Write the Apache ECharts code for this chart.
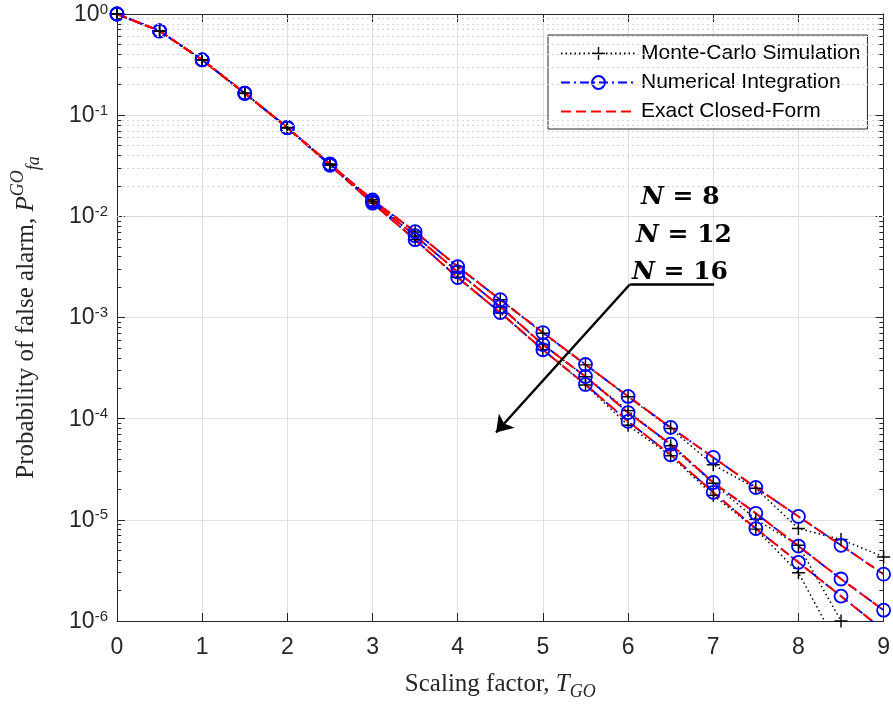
<!DOCTYPE html>
<html>
<head>
<meta charset="utf-8">
<title>Probability of false alarm vs scaling factor</title>
<script src="https://cdn.jsdelivr.net/npm/echarts@6/dist/echarts.min.js"></script>
<style>
  html, body { margin: 0; padding: 0; background: #fff; }
  #chart { width: 893px; height: 706px; }
</style>
</head>
<body>
<div id="chart"></div>
<script>
// scaling factor T_GO
const tValues = [0, 0.5, 1, 1.5, 2, 2.5, 3, 3.5, 4, 4.5, 5, 5.5, 6, 6.5, 7, 7.5, 8, 8.5, 9]

// numerical integration (the exact closed-form curves lie on top of these)
const numN8 = [1, 0.68, 0.352, 0.165, 0.0755, 0.033, 0.0145, 7.05e-3, 3.18e-3, 1.5e-3, 7.1e-4, 3.43e-4, 1.66e-4, 8.2e-5, 4.14e-5, 2.09e-5, 1.08e-5, 5.6e-6, 2.9e-6]
const numN12 = [1, 0.68, 0.352, 0.165, 0.0752, 0.0325, 0.014, 6.43e-3, 2.82e-3, 1.28e-3, 5.4e-4, 2.61e-4, 1.15e-4, 5.6e-5, 2.34e-5, 1.16e-5, 5.5e-6, 2.6e-6, 1.28e-6]
const numN16 = [1, 0.68, 0.352, 0.164, 0.075, 0.032, 0.0135, 5.88e-3, 2.48e-3, 1.12e-3, 4.8e-4, 2.18e-4, 9.4e-5, 4.4e-5, 1.87e-5, 8.2e-6, 3.8e-6, 1.76e-6, 8.1e-7]

// monte-carlo runs (null = no false alarm counted)
const mcN8 = [1, 0.68, 0.353, 0.165, 0.0756, 0.033, 0.0146, 7.0e-3, 3.2e-3, 1.5e-3, 7.0e-4, 3.4e-4, 1.65e-4, 8.0e-5, 3.5e-5, 2.05e-5, 8.2e-6, 6.4e-6, 4.3e-6]
const mcN12 = [1, 0.68, 0.352, 0.165, 0.0752, 0.0325, 0.014, 6.4e-3, 2.83e-3, 1.27e-3, 5.4e-4, 2.6e-4, 1.2e-4, 5.4e-5, 2.3e-5, 1.01e-5, 5.6e-6, 1.0e-6, null]
const mcN16 = [1, 0.68, 0.351, 0.164, 0.075, 0.032, 0.0135, 5.9e-3, 2.5e-3, 1.11e-3, 4.8e-4, 2.15e-4, 8.6e-5, 4.3e-5, 1.75e-5, 8.1e-6, 3.0e-6, 5e-7, null]

const legendNames = ['Monte-Carlo Simulation', 'Numerical Integration', 'Exact Closed-Form']
const nLabels = ['8', '12', '16']

const axisColor = '#262626'
const sans = 'Liberation Sans'
const serif = 'Liberation Serif'
const plusPath = 'path://M-1,-0.11H1V0.11H-1Z M-0.11,-1H0.11V1H-0.11Z'

// log minor steps (2..9 in each decade)
const minorVals = []
for (let d = -6; d < 0; d++) {
  for (let k = 2; k <= 9; k++) minorVals.push(k * Math.pow(10, d))
}

function lineSeries(name, ys, opts) {
  return Object.assign({
    name: name,
    type: 'line',
    data: tValues.map((t, i) => [t, ys[i]]),
    clip: true,
    emphasis: { disabled: true }
  }, opts)
}

const mcStyle = {
  symbol: plusPath,
  symbolSize: 13,
  itemStyle: { color: '#000' },
  lineStyle: { color: '#000', width: 1.5, type: [1.5, 3] }
}
const numStyle = {
  symbol: 'circle',
  symbolSize: 13,
  itemStyle: { color: 'rgba(0,0,0,0)', borderColor: '#0000ff', borderWidth: 1.8 },
  lineStyle: { color: '#0000ff', width: 1.8, type: [9, 4, 2, 4] }
}
const exactStyle = {
  symbol: 'none',
  // transparent item colour keeps the legend icon a bare dashed line
  itemStyle: { color: 'rgba(0,0,0,0)', borderWidth: 0 },
  lineStyle: { color: '#ff0000', width: 2, type: [10, 5] }
}

const series = [
  // minor grid lines
  {
    type: 'line', data: [], silent: true, z: 1,
    markLine: {
      silent: true, symbol: 'none', label: { show: false }, animation: false,
      lineStyle: { color: '#d4d4d4', width: 1, type: [2, 3] },
      data: minorVals.map(v => ({ yAxis: v }))
    }
  },
  // minor ticks left/right
  {
    type: 'line', data: [], silent: true, z: 3,
    markLine: {
      silent: true, symbol: 'none', label: { show: false }, animation: false,
      lineStyle: { color: axisColor, width: 1, type: 'solid' },
      data: minorVals.map(v => [{ coord: [0, v] }, { coord: [0.05, v] }])
        .concat(minorVals.map(v => [{ coord: [8.95, v] }, { coord: [9, v] }]))
    }
  },
  lineSeries(legendNames[0], mcN8, mcStyle),
  lineSeries(legendNames[0], mcN12, mcStyle),
  lineSeries(legendNames[0], mcN16, mcStyle),
  lineSeries(legendNames[1], numN8, numStyle),
  lineSeries(legendNames[1], numN12, numStyle),
  lineSeries(legendNames[1], numN16, numStyle),
  lineSeries(legendNames[2], numN8, exactStyle),
  lineSeries(legendNames[2], numN12, exactStyle),
  lineSeries(legendNames[2], numN16, exactStyle),
  // annotation arrow
  {
    type: 'line', data: [], silent: true, z: 10,
    markLine: {
      silent: true, symbol: ['none', 'arrow'], symbolSize: 16, label: { show: false }, animation: false,
      lineStyle: { color: '#000', width: 2.5, type: 'solid' },
      data: [
        [{ coord: [7.01, 2.12e-3] }, { coord: [6.02, 2.12e-3], symbol: 'none' }],
        [{ coord: [6.02, 2.12e-3] }, { coord: [4.45, 7.3e-5] }]
      ]
    }
  }
]

const chart = echarts.init(document.getElementById('chart'))

chart.setOption({
  animation: false,
  backgroundColor: '#fff',
  grid: { left: 117, top: 14, width: 770, height: 608 },
  legend: {
    data: legendNames,
    orient: 'vertical',
    left: 548,
    top: 35,
    backgroundColor: '#fff',
    borderColor: axisColor,
    borderWidth: 1,
    borderRadius: 0,
    padding: [8, 7, 7, 12],
    itemWidth: 75,
    itemHeight: 16,
    itemGap: 8,
    selectedMode: false,
    textStyle: { fontFamily: sans, fontSize: 21, color: '#000' }
  },
  xAxis: [{
    type: 'value', min: 0, max: 9, interval: 1, position: 'bottom',
    axisLine: { show: true, onZero: false, lineStyle: { color: axisColor } },
    axisTick: { show: true, inside: true, length: 8, lineStyle: { color: axisColor } },
    axisLabel: { fontFamily: sans, fontSize: 23, color: axisColor, margin: 15 },
    splitLine: { show: true, lineStyle: { color: '#dfdfdf', width: 1 } },
    name: '{r|Scaling factor, }{i|T}{sub|GO}',
    nameLocation: 'middle',
    nameGap: 46,
    nameTextStyle: {
      rich: {
        r: { fontFamily: serif, fontSize: 25, color: axisColor, lineHeight: 34 },
        i: { fontFamily: serif, fontSize: 25, fontStyle: 'italic', color: axisColor, lineHeight: 34 },
        sub: { fontFamily: serif, fontSize: 18, fontStyle: 'italic', color: axisColor, lineHeight: 18, verticalAlign: 'bottom' }
      }
    }
  }, {
    type: 'value', min: 0, max: 9, interval: 1, position: 'top',
    axisLine: { show: true, onZero: false, lineStyle: { color: axisColor } },
    axisTick: { show: true, inside: true, length: 8, lineStyle: { color: axisColor } },
    axisLabel: { show: false },
    splitLine: { show: false }
  }],
  yAxis: [{
    type: 'log', logBase: 10, min: 1e-6, max: 1, interval: 1, position: 'left',
    axisLine: { show: true, onZero: false, lineStyle: { color: axisColor } },
    axisTick: { show: true, inside: true, length: 8, lineStyle: { color: axisColor } },
    axisLabel: {
      margin: 9,
      formatter: v => '{b|10}{e|' + Math.round(Math.log10(v)) + '}',
      rich: {
        b: { fontFamily: sans, fontSize: 23, color: axisColor, lineHeight: 24, verticalAlign: 'bottom' },
        e: { fontFamily: sans, fontSize: 15, color: axisColor, lineHeight: 18, verticalAlign: 'top' }
      }
    },
    splitLine: { show: true, lineStyle: { color: '#dfdfdf', width: 1 } },
    name: '{r|Probability of false alarm, }{i|P}{sup|GO}{sub|fa}',
    nameLocation: 'middle',
    nameGap: 74,
    nameTextStyle: {
      rich: {
        r: { fontFamily: serif, fontSize: 25, color: axisColor, lineHeight: 34 },
        i: { fontFamily: serif, fontSize: 25, fontStyle: 'italic', color: axisColor, lineHeight: 34 },
        sup: { fontFamily: serif, fontSize: 18, fontStyle: 'italic', color: axisColor, lineHeight: 18, verticalAlign: 'top' },
        sub: { fontFamily: serif, fontSize: 18, fontStyle: 'italic', color: axisColor, lineHeight: 18, verticalAlign: 'bottom' }
      }
    }
  }, {
    type: 'log', logBase: 10, min: 1e-6, max: 1, interval: 1, position: 'right',
    axisLine: { show: true, onZero: false, lineStyle: { color: axisColor } },
    axisTick: { show: true, inside: true, length: 8, lineStyle: { color: axisColor } },
    axisLabel: { show: false },
    splitLine: { show: false }
  }],
  graphic: nLabels.map((n, i) => ({
    type: 'text',
    left: [641, 636, 632][i],
    top: [185, 223, 260][i],
    z: 100,
    style: {
      text: '{n|N}{d| = ' + n + '}',
      rich: {
        n: { fontFamily: 'DejaVu Serif', fontSize: 25, fontWeight: 'bold', fontStyle: 'italic', fill: '#000' },
        d: { fontFamily: 'DejaVu Serif', fontSize: 25, fontWeight: 'bold', fill: '#000' }
      }
    }
  })),
  series: series
})
</script>
</body>
</html>
